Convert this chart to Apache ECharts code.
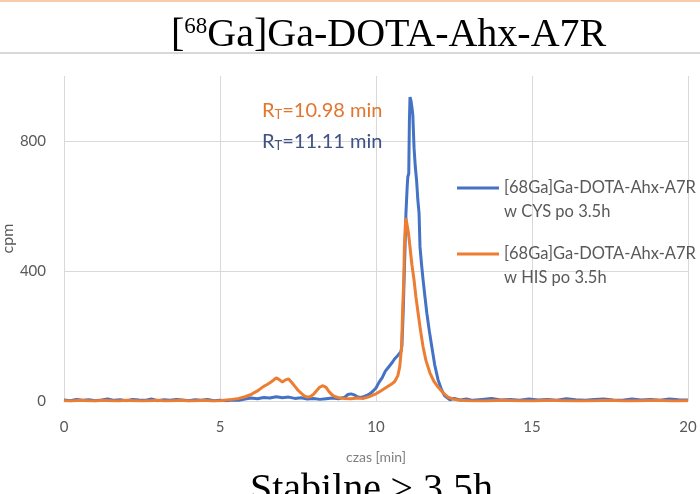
<!DOCTYPE html>
<html>
<head>
<meta charset="utf-8">
<script src="https://cdn.jsdelivr.net/npm/echarts@6.0.0/dist/echarts.min.js"></script>
<style>
  html, body { margin: 0; padding: 0; background: #fff; }
  #chart { width: 700px; height: 494px; }
</style>
</head>
<body>
<div id="chart"></div>
<script>
// radio-HPLC traces, time in min / counts per minute
const timeCys = [0, 0.2, 0.4, 0.6, 0.8, 1.0, 1.2, 1.4, 1.6, 1.8, 2.0, 2.2, 2.4, 2.6, 2.8, 3.0, 3.2, 3.4, 3.6, 3.8,
  4.0, 4.2, 4.4, 4.6, 4.8, 5.0, 5.2, 5.4, 5.6, 5.8, 6.0, 6.2, 6.4, 6.6, 6.8, 7.0, 7.2, 7.4, 7.6, 7.8,
  8.0, 8.2, 8.4, 8.6, 8.8, 9.0, 9.1, 9.2, 9.3, 9.4, 9.5, 9.6, 9.7, 9.8, 9.9, 10.0, 10.1, 10.2, 10.3, 10.4,
  10.5, 10.6, 10.7, 10.8, 10.83, 10.87, 10.9, 10.93, 10.96, 11.0, 11.02, 11.05, 11.07, 11.09, 11.12, 11.15, 11.18, 11.22, 11.26, 11.3,
  11.34, 11.38, 11.41, 11.46, 11.51, 11.57, 11.63, 11.71, 11.79, 11.88, 11.99, 12.1, 12.2, 12.37, 12.5, 12.7, 12.9, 13.1, 13.4, 13.7,
  14.0, 14.3, 14.6, 14.9, 15.2, 15.5, 15.8, 16.1, 16.4, 16.7, 17.0, 17.3, 17.6, 17.9, 18.2, 18.5, 18.8, 19.1, 19.4, 19.7, 20.0]
const cpmCys = [3, 1, 5, 2, 4, 1, 3, 6, 2, 4, 1, 5, 3, 2, 6, 1, 4, 2, 5, 3,
  1, 4, 2, 5, 1, 2, 1, 3, 2, 6, 9, 7, 11, 9, 13, 10, 12, 8, 10, 6,
  8, 5, 7, 9, 7, 12, 20, 22, 19, 13, 11, 13, 17, 22, 30, 40, 58, 72, 92, 104,
  116, 130, 140, 152, 170, 270, 372, 470, 578, 660, 690, 700, 860, 935, 925, 905, 880, 778, 720, 680,
  620, 578, 475, 420, 372, 320, 270, 215, 166, 112, 65, 35, 16, 4, 8, 3, 6, 2, 5, 8,
  3, 5, 2, 6, 3, 5, 2, 7, 4, 2, 5, 6, 3, 2, 6, 3, 5, 2, 6, 4, 3]

const timeHis = [0, 0.25, 0.5, 0.75, 1.0, 1.25, 1.5, 1.75, 2.0, 2.25, 2.5, 2.75, 3.0, 3.25, 3.5, 3.75, 4.0, 4.25, 4.5, 4.75,
  5.0, 5.2, 5.4, 5.6, 5.8, 6.0, 6.1, 6.2, 6.3, 6.4, 6.5, 6.6, 6.7, 6.8, 6.9, 7.0, 7.1, 7.2, 7.3, 7.4,
  7.5, 7.6, 7.7, 7.8, 7.9, 8.0, 8.1, 8.2, 8.3, 8.4, 8.5, 8.6, 8.7, 8.8, 9.0, 9.2, 9.4, 9.6, 9.8, 10.0,
  10.1, 10.2, 10.3, 10.4, 10.5, 10.6, 10.7, 10.76, 10.82, 10.85, 10.89, 10.91, 10.94, 10.96, 10.99, 11.03, 11.06, 11.09, 11.15, 11.22,
  11.28, 11.35, 11.43, 11.51, 11.6, 11.73, 11.86, 11.99, 12.15, 12.31, 12.5, 12.7, 13.0, 13.5, 14.0, 14.5, 15.0, 15.5, 16.0, 16.5,
  17.0, 17.5, 18.0, 18.5, 19.0, 19.5, 20.0]
const cpmHis = [1, 0, 2, 1, 0, 2, 1, 0, 2, 1, 0, 1, 2, 0, 1, 2, 0, 1, 2, 0,
  1, 3, 5, 8, 13, 20, 26, 31, 38, 45, 50, 56, 63, 71, 66, 58, 65, 68, 57, 45,
  33, 24, 16, 12, 14, 21, 32, 43, 47, 42, 28, 18, 13, 10, 8, 7, 9, 8, 14, 22,
  28, 34, 40, 46, 52, 60, 78, 105, 166, 270, 372, 475, 540, 563, 545, 523, 500, 473, 420, 372,
  320, 270, 215, 166, 125, 86, 60, 43, 25, 12, 5, 2, 1, 0, 2, 1, 0, 2, 1, 0,
  1, 2, 0, 1, 2, 0, 1]

const xTicks = [0, 5, 10, 15, 20]
const yTicks = [0, 400, 800]
const seriesNames = ['[68Ga]Ga-DOTA-Ahx-A7R\nw CYS po 3.5h', '[68Ga]Ga-DOTA-Ahx-A7R\nw HIS po 3.5h']

const pair = (ts, vs) => ts.map((t, i) => [t, vs[i]])
const sans = 'Lato, "Open Sans", sans-serif'
const serif = '"Liberation Serif", "DejaVu Serif", serif'

const chart = echarts.init(document.getElementById('chart'))
const option = {
  animation: false,
  color: ['#4472C4', '#ED7D31'],
  title: [
    {
      text: '{m|[}{s|68}{m|Ga]Ga-DOTA-Ahx-A7R}',
      left: 166,
      top: 10,
      textStyle: {
        rich: {
          m: { fontFamily: serif, fontSize: 40, fontWeight: 'normal', color: '#000' },
          s: { fontFamily: serif, fontSize: 23, fontWeight: 'normal', color: '#000', verticalAlign: 'top' }
        }
      }
    },
    {
      text: '{r|R}{s|T}{r|=10.98 min}',
      left: 257,
      top: 96,
      textStyle: {
        rich: {
          r: { fontFamily: sans, fontSize: 20, fontWeight: 'normal', color: '#E2762E' },
          s: { fontFamily: sans, fontSize: 13, fontWeight: 'normal', color: '#E2762E', verticalAlign: 'bottom' }
        }
      }
    },
    {
      text: '{r|R}{s|T}{r|=11.11 min}',
      left: 257,
      top: 127,
      textStyle: {
        rich: {
          r: { fontFamily: sans, fontSize: 20, fontWeight: 'normal', color: '#3F5185' },
          s: { fontFamily: sans, fontSize: 13, fontWeight: 'normal', color: '#3F5185', verticalAlign: 'bottom' }
        }
      }
    },
    {
      text: 'Stabilne ≥ 3.5h',
      left: 245,
      top: 465,
      textStyle: { fontFamily: serif, fontSize: 40, fontWeight: 'normal', color: '#000' }
    }
  ],
  graphic: [
    { type: 'rect', shape: { x: 0, y: 0, width: 700, height: 2 }, style: { fill: '#F8CBAD' } },
    { type: 'line', shape: { x1: 0, y1: 53, x2: 700, y2: 53 }, style: { stroke: '#d9d9d9', lineWidth: 2 } }
  ],
  legend: {
    orient: 'vertical',
    left: 452,
    top: 147,
    itemWidth: 42,
    itemHeight: 3,
    itemGap: -6,
    icon: 'rect',
    data: seriesNames,
    // empty first line so the swatch sits level with the first text line
    formatter: name => ' \n' + name,
    textStyle: {
      fontFamily: sans,
      fontSize: 16.5,
      color: '#595959',
      lineHeight: 24
    }
  },
  grid: { left: 64, right: 12, top: 76, bottom: 93, outerBoundsMode: 'none', containLabel: false },
  xAxis: {
    type: 'value',
    min: 0,
    max: 20,
    interval: 5,
    name: 'czas [min]',
    nameLocation: 'middle',
    nameGap: 49,
    nameMoveOverlap: false,
    nameTextStyle: { fontFamily: sans, fontSize: 14, color: '#7f7f7f' },
    axisLine: { show: true, lineStyle: { color: '#d9d9d9', width: 1 } },
    axisTick: { show: false },
    axisLabel: {
      fontFamily: sans, fontSize: 15, color: '#595959', margin: 19,
      formatter: v => (xTicks.includes(v) ? String(v) : '')
    },
    splitLine: { show: true, lineStyle: { color: '#d9d9d9', width: 1 } }
  },
  yAxis: {
    type: 'value',
    min: 0,
    max: 1000,
    interval: 400,
    name: 'cpm',
    nameLocation: 'middle',
    nameRotate: 90,
    nameGap: 48,
    nameMoveOverlap: false,
    nameTextStyle: { fontFamily: sans, fontSize: 16, color: '#595959' },
    axisLine: { show: false },
    axisTick: { show: false },
    axisLabel: {
      fontFamily: sans, fontSize: 15, color: '#595959', margin: 18,
      showMaxLabel: false,
      formatter: v => (yTicks.includes(v) ? String(v) : '')
    },
    splitLine: {
      show: true,
      lineStyle: { color: ['#d9d9d9', '#d9d9d9', '#d9d9d9', 'rgba(0,0,0,0)'], width: 1 }
    }
  },
  series: [
    {
      name: seriesNames[0],
      type: 'line',
      showSymbol: false,
      symbol: 'none',
      lineStyle: { width: 3 },
      data: pair(timeCys, cpmCys)
    },
    {
      name: seriesNames[1],
      type: 'line',
      showSymbol: false,
      symbol: 'none',
      lineStyle: { width: 3 },
      data: pair(timeHis, cpmHis)
    }
  ]
}
chart.setOption(option)
</script>
</body>
</html>
